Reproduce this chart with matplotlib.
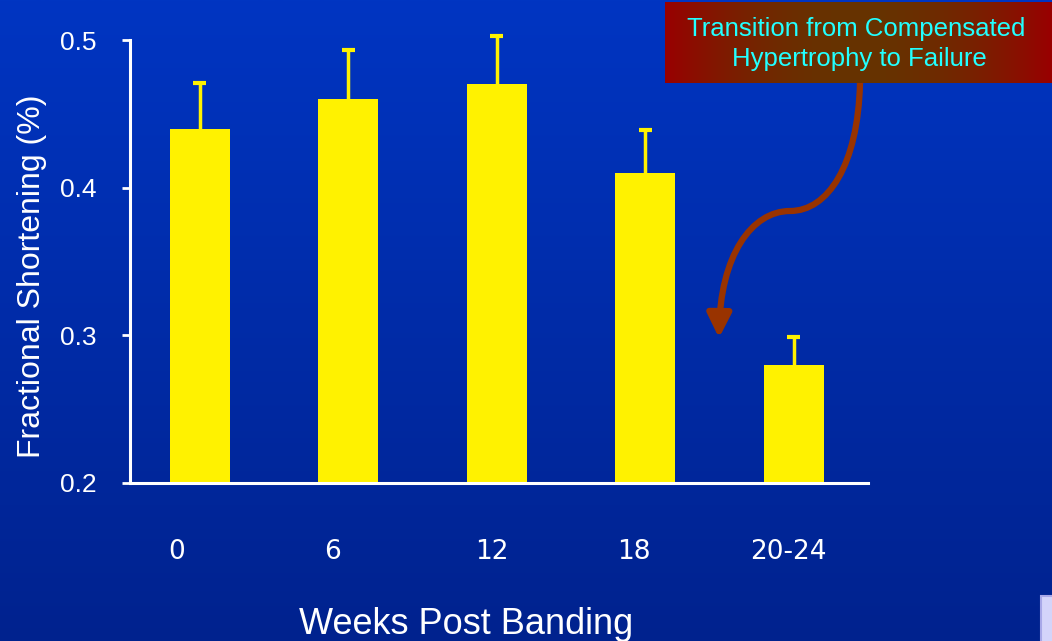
import numpy as np
import matplotlib.pyplot as plt
from matplotlib.path import Path
from matplotlib.patches import FancyArrowPatch, Rectangle

# fractional shortening by weeks post banding
weeks = ["0", "6", "12", "18", "20-24"]
fs_mean = [0.44, 0.46, 0.47, 0.41, 0.28]
fs_err = [0.031, 0.033, 0.033, 0.029, 0.019]
label_shift = [-0.155, -0.108, -0.034, -0.074, -0.034]

W, H = 1052, 641
fig = plt.figure(figsize=(W / 100, H / 100), dpi=100)

# slide background: vertical blue gradient
bg = fig.add_axes([0, 0, 1, 1], zorder=0)
grad = np.linspace(0, 1, 256)[:, None]
top = np.array([0x00, 0x35, 0xC2]) / 255
bot = np.array([0x00, 0x22, 0x8E]) / 255
img = top[None, None, :] * (1 - grad[..., None]) + bot[None, None, :] * grad[..., None]
bg.imshow(img, aspect="auto", extent=[0, 1, 0, 1])
bg.set_axis_off()

ax = fig.add_axes([130 / W, 158 / H, (868 - 130) / W, (483 - 40) / H], zorder=1)
ax.patch.set_alpha(0)
x = np.arange(len(weeks))
mean = np.array(fs_mean)
upper = mean + np.array(fs_err)
ax.bar(x, mean, width=0.404, color="#FFF200", zorder=2)
# upper-only error bars with a cap
ax.vlines(x, mean, upper, color="#FFF200", lw=2.5, zorder=1, clip_on=False)
ax.hlines(upper, x - 0.045, x + 0.045, color="#FFF200", lw=3, zorder=1, clip_on=False)
ax.set_xlim(-0.47, 4.5)
ax.set_ylim(0.2, 0.5)
ax.set_yticks([0.2, 0.3, 0.4, 0.5])
ax.set_yticklabels(["0.2", "0.3", "0.4", "0.5"], family="Liberation Sans", fontsize=19, color="white")
ax.set_xticks(x + np.array(label_shift))
ax.set_xticklabels(weeks, family="DejaVu Sans", fontsize=19, color="white")
ax.tick_params(axis="x", length=0, pad=40)
ax.tick_params(axis="y", length=6, width=2, color="white", pad=18)
for s in ["top", "right"]:
    ax.spines[s].set_visible(False)
for s in ["left", "bottom"]:
    ax.spines[s].set_color("white")
    ax.spines[s].set_linewidth(2.2)
ax.set_ylabel("Fractional Shortening (%)", family="Liberation Sans", fontsize=23, color="white")
ax.yaxis.set_label_coords(-0.112, 0.467)
ax.set_xlabel("Weeks Post Banding", family="Liberation Sans", fontsize=26, color="white")
ax.xaxis.set_label_coords(0.455, -0.28)

# callout box and curved arrow, in pixel coordinates
ov = fig.add_axes([0, 0, 1, 1], zorder=3)
ov.set_xlim(0, W)
ov.set_ylim(H, 0)
ov.set_axis_off()
ov.patch.set_alpha(0)

bx0, bx1, by0, by1 = 665, 1052, 2, 83
t = np.linspace(0, 1, 256)
mix = (np.abs(t - 0.5) * 2) ** 2
red = np.array([0x99, 0x00, 0x00]) / 255
brown = np.array([0x66, 0x33, 0x00]) / 255
box = (brown[None, :] * (1 - mix[:, None]) + red[None, :] * mix[:, None])[None, :, :]
ov.imshow(box, aspect="auto", extent=[bx0, bx1, by1, by0], zorder=2)
ov.text(856, 29, "Transition from Compensated", ha="center", va="center",
        family="Liberation Sans", fontsize=18.5, color="#22FFFF", zorder=3)
ov.text(859, 59, "Hypertrophy to Failure", ha="center", va="center",
        family="Liberation Sans", fontsize=18.5, color="#22FFFF", zorder=3)

verts = [(860, 83), (858, 165), (828, 211), (790, 211),
         (752, 211), (720, 255), (719, 338)]
codes = [Path.MOVETO, Path.CURVE4, Path.CURVE4, Path.CURVE4,
         Path.CURVE4, Path.CURVE4, Path.CURVE4]
arrow = FancyArrowPatch(path=Path(verts, codes), arrowstyle="-|>,head_length=1.6,head_width=0.8",
                        mutation_scale=9, color="#993300", lw=4.5, zorder=1)
ov.add_patch(arrow)

# corner of the next slide element
ov.add_patch(Rectangle((1041, 596), 20, 60, facecolor="#D4D4FA", edgecolor="#A8A8E8", lw=1.5))

fig.savefig("out.png", dpi=100)
